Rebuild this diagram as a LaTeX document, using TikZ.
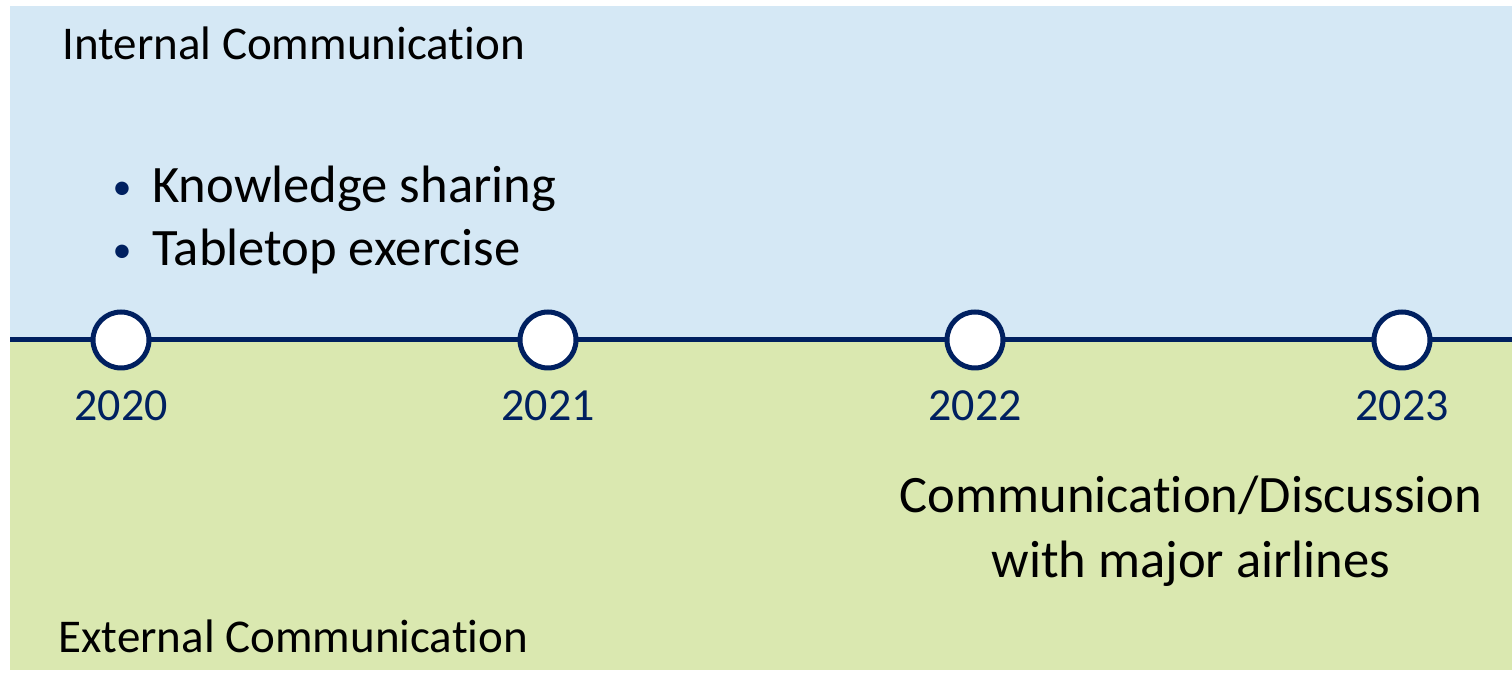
\documentclass[tikz,border=0pt]{standalone}
\usepackage{fontspec}
\setmainfont{Carlito}[Ligatures=NoCommon]
\usepackage{tikz}

\definecolor{innerblue}{RGB}{213,232,245}
\definecolor{outergreen}{RGB}{218,232,176}
\definecolor{navy}{RGB}{0,32,96}

\tikzset{
    milestone/.style={circle, minimum size=28pt, inner sep=0pt, draw=navy, fill=white, line width=2.5pt},
    yearlabel/.style={anchor=base, text=navy, font=\fontsize{23}{27}\selectfont},
    sidetitle/.style={anchor=base west, inner sep=0pt, font=\fontsize{23.5}{28}\selectfont},
    bodytext/.style={inner sep=0pt, font=\fontsize{26.3}{32.5}\selectfont}
}

\begin{document}
\begin{tikzpicture}[x=0.5pt, y=-0.5pt]
            \useasboundingbox (0,0) rectangle (1512,673);
            % Background
            \fill[innerblue] (10,6) rectangle (1512,340);
            \fill[outergreen] (10,340) rectangle (1512,670);
            % Titles
            \node[sidetitle] (Internal) at (62,60) {Internal Communication};
            \node[sidetitle] (External) at (58,653) {External Communication};
            % Timeline
            \coordinate (Line-start) at (10,340);
            \coordinate (Line-end) at (1512,340);
            \draw[navy, line width=2.5pt] (Line-start) -- (Line-end);
            \foreach \name/\i/\x in {2020/1/121,2021/2/548,2022/3/975,2023/4/1402} {
                \node[milestone] (Year-\i) at (\x,340) {};
                \node[yearlabel] (Label-\i) at (\x,421) {\name};
            }
            % Internal items
            \foreach \name/\i in {Knowledge sharing/1,Tabletop exercise/2} {
                \node[bodytext, anchor=base west] (Item-\i) at (152,140+\i*63) {\name};
                \node[bodytext, anchor=base, text=navy, font=\fontsize{19}{20}\selectfont] (Bullet-\i) at (122,137+\i*63) {•};
            }
            % External items
            \node[bodytext, align=center, anchor=base] (Airlines) at (1191,578)
                {Communication/Discussion\\with major airlines};
        \end{tikzpicture}
\end{document}
